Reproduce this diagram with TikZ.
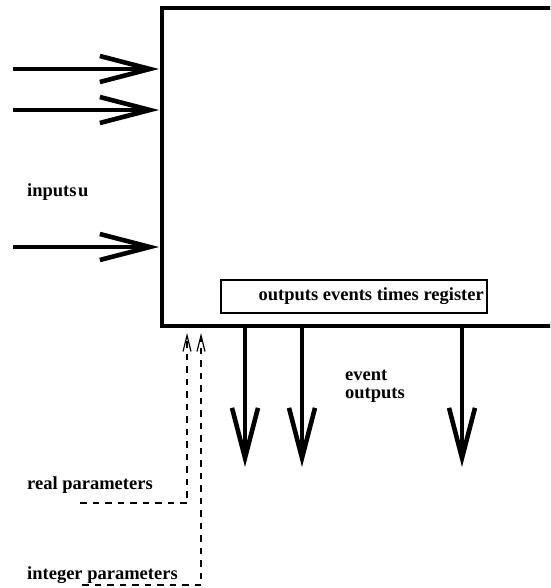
\documentclass[tikz,border=0pt]{standalone}
\usepackage{fontspec}
\setmainfont{Liberation Serif}
\usetikzlibrary{arrows.meta}
\begin{document}
\begin{tikzpicture}[x=1pt,y=-1pt,
  lbl/.style={font=\fontsize{18.5}{18}\selectfont\bfseries, inner sep=0pt, anchor=west},
  bigarrow/.style={line width=4.6pt, -{Straight Barb[length=50pt,width=26pt,line width=4.6pt]}},
  parmarrow/.style={line width=1.2pt, dash pattern=on 6.5pt off 6pt, -{Straight Barb[length=16pt,width=8pt,line width=1.2pt]}}]
\useasboundingbox (0,0) rectangle (550,588);
\clip (0,0) rectangle (550,588);
% the block, open on the right
\draw[line width=4pt] (560,8) -- (162,8) -- (162,326) -- (560,326);
\coordinate (blockW1) at (159,69);
\coordinate (blockW2) at (159,110);
\coordinate (blockW3) at (159,247);
% register box inside the block
\node[draw, line width=1.6pt, minimum width=266pt, minimum height=33pt, inner sep=0pt] (reg) at (354,296.5) {};
\node[lbl, anchor=east] (regtxt) at (484,296.5) {outputs events times register};
% inputs
\coordinate (in1) at (13,69);
\coordinate (in2) at (13,110);
\coordinate (in3) at (13,247);
\draw[bigarrow] (in1) -- (blockW1);
\draw[bigarrow] (in2) -- (blockW2);
\draw[bigarrow] (in3) -- (blockW3);
\node[lbl] (inputs) at (27,192) {inputs\kern1.5pt u};
% event outputs
\coordinate (o1s) at (245,326);
\coordinate (o2s) at (302,326);
\coordinate (o3s) at (462,326);
\coordinate (o1e) at (245,467);
\coordinate (o2e) at (302,467);
\coordinate (o3e) at (462,467);
\draw[bigarrow] (o1s) -- (o1e);
\draw[bigarrow] (o2s) -- (o2e);
\draw[bigarrow] (o3s) -- (o3e);
\node[lbl, align=left, font=\fontsize{18.5}{18}\selectfont\bfseries] (evout) at (345,386) {event\\outputs};
% parameters
\node[lbl] (realp) at (27,485) {real parameters};
\node[lbl] (intp) at (27,575) {integer parameters};
\coordinate (r0) at (80,503);
\coordinate (r1) at (187,503);
\coordinate (rt) at (187,333);
\coordinate (i0) at (82,585);
\coordinate (i1) at (201,585);
\coordinate (it) at (201,333);
\draw[parmarrow] (r0) -- (r1) -- (rt);
\draw[parmarrow] (i0) -- (i1) -- (it);
\end{tikzpicture}
\end{document}
